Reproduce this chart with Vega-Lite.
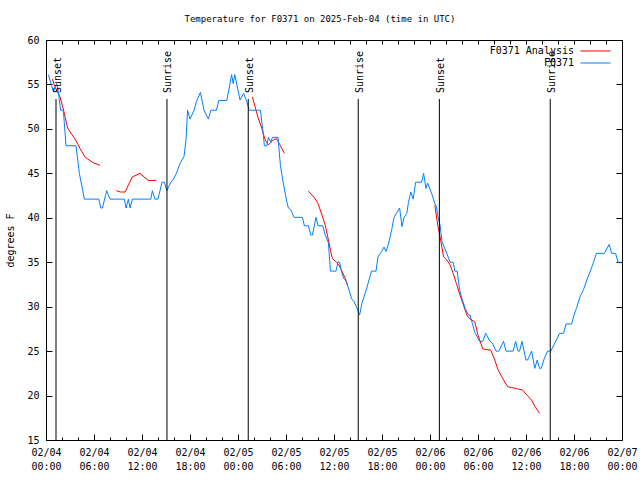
{
  "$schema": "https://vega.github.io/schema/vega-lite/v6.json",
  "width": 576,
  "height": 400,
  "autosize": {"type": "none"},
  "padding": {"left": 46, "top": 40, "right": 18, "bottom": 40},
  "background": "white",
  "title": {"text": "Temperature for F0371 on 2025-Feb-04 (time in UTC)", "font": "DejaVu Sans Mono", "fontSize": 9, "fontWeight": "normal", "color": "black", "anchor": "middle", "offset": 11, "dx": -14},
  "config": {
    "view": {"stroke": "black", "strokeWidth": 1},
    "axis": {"domain": false, "grid": false, "labelFont": "DejaVu Sans Mono", "labelFontSize": 10, "labelColor": "black", "tickColor": "black", "tickWidth": 1, "titleFont": "DejaVu Sans Mono", "titleFontSize": 10, "titleFontWeight": "normal", "titleColor": "black"},
    "legend": {"orient": "none", "legendX": 544, "legendY": 5.5, "padding": 0, "symbolType": "M-3,0H3", "symbolStrokeWidth": 1, "symbolSize": 100, "labelFont": "DejaVu Sans Mono", "labelFontSize": 10, "labelColor": "black", "labelAlign": "right", "labelOffset": -27, "rowPadding": 1}
  },
  "datasets": {
    "temps": [
      {"series": "F0371 Analysis", "seg": "a1", "hour": 0.8, "temp": 55.6},
      {"series": "F0371 Analysis", "seg": "a1", "hour": 1.1, "temp": 54.75},
      {"series": "F0371 Analysis", "seg": "a1", "hour": 1.75, "temp": 53.6},
      {"series": "F0371 Analysis", "seg": "a1", "hour": 2.2, "temp": 52.1},
      {"series": "F0371 Analysis", "seg": "a1", "hour": 2.7, "temp": 50.1},
      {"series": "F0371 Analysis", "seg": "a1", "hour": 3.2, "temp": 49.4},
      {"series": "F0371 Analysis", "seg": "a1", "hour": 3.7, "temp": 48.75},
      {"series": "F0371 Analysis", "seg": "a1", "hour": 4.25, "temp": 47.8},
      {"series": "F0371 Analysis", "seg": "a1", "hour": 4.9, "temp": 46.8},
      {"series": "F0371 Analysis", "seg": "a1", "hour": 5.9, "temp": 46.2},
      {"series": "F0371 Analysis", "seg": "a1", "hour": 6.75, "temp": 45.9},
      {"series": "F0371 Analysis", "seg": "a2", "hour": 8.8, "temp": 43.05},
      {"series": "F0371 Analysis", "seg": "a2", "hour": 9.3, "temp": 42.9},
      {"series": "F0371 Analysis", "seg": "a2", "hour": 9.9, "temp": 42.9},
      {"series": "F0371 Analysis", "seg": "a2", "hour": 10.3, "temp": 43.7},
      {"series": "F0371 Analysis", "seg": "a2", "hour": 10.8, "temp": 44.6},
      {"series": "F0371 Analysis", "seg": "a2", "hour": 11.75, "temp": 45.0},
      {"series": "F0371 Analysis", "seg": "a2", "hour": 12.25, "temp": 44.6},
      {"series": "F0371 Analysis", "seg": "a2", "hour": 12.8, "temp": 44.2},
      {"series": "F0371 Analysis", "seg": "a2", "hour": 13.8, "temp": 44.2},
      {"series": "F0371 Analysis", "seg": "a3", "hour": 25.8, "temp": 53.6},
      {"series": "F0371 Analysis", "seg": "a3", "hour": 26.1, "temp": 52.6},
      {"series": "F0371 Analysis", "seg": "a3", "hour": 26.5, "temp": 51.3},
      {"series": "F0371 Analysis", "seg": "a3", "hour": 26.96, "temp": 50.1},
      {"series": "F0371 Analysis", "seg": "a3", "hour": 27.4, "temp": 48.75},
      {"series": "F0371 Analysis", "seg": "a3", "hour": 27.8, "temp": 48.2},
      {"series": "F0371 Analysis", "seg": "a3", "hour": 28.4, "temp": 48.75},
      {"series": "F0371 Analysis", "seg": "a3", "hour": 28.8, "temp": 48.9},
      {"series": "F0371 Analysis", "seg": "a3", "hour": 29.25, "temp": 48.2},
      {"series": "F0371 Analysis", "seg": "a3", "hour": 29.8, "temp": 47.25},
      {"series": "F0371 Analysis", "seg": "a4", "hour": 32.8, "temp": 43.0},
      {"series": "F0371 Analysis", "seg": "a4", "hour": 33.6, "temp": 42.2},
      {"series": "F0371 Analysis", "seg": "a4", "hour": 34.0, "temp": 41.6},
      {"series": "F0371 Analysis", "seg": "a4", "hour": 34.5, "temp": 40.3},
      {"series": "F0371 Analysis", "seg": "a4", "hour": 34.9, "temp": 39.2},
      {"series": "F0371 Analysis", "seg": "a4", "hour": 35.3, "temp": 37.5},
      {"series": "F0371 Analysis", "seg": "a4", "hour": 35.6, "temp": 36.2},
      {"series": "F0371 Analysis", "seg": "a4", "hour": 35.8, "temp": 35.4},
      {"series": "F0371 Analysis", "seg": "a4", "hour": 36.25, "temp": 35.06},
      {"series": "F0371 Analysis", "seg": "a4", "hour": 36.6, "temp": 34.7},
      {"series": "F0371 Analysis", "seg": "a4", "hour": 36.96, "temp": 34.05},
      {"series": "F0371 Analysis", "seg": "a4", "hour": 37.4, "temp": 33.2},
      {"series": "F0371 Analysis", "seg": "a4", "hour": 37.7, "temp": 32.4},
      {"series": "F0371 Analysis", "seg": "a5", "hour": 48.6, "temp": 41.4},
      {"series": "F0371 Analysis", "seg": "a5", "hour": 49.0, "temp": 39.0},
      {"series": "F0371 Analysis", "seg": "a5", "hour": 49.25, "temp": 37.9},
      {"series": "F0371 Analysis", "seg": "a5", "hour": 49.7, "temp": 35.6},
      {"series": "F0371 Analysis", "seg": "a5", "hour": 50.1, "temp": 35.25},
      {"series": "F0371 Analysis", "seg": "a5", "hour": 50.5, "temp": 34.7},
      {"series": "F0371 Analysis", "seg": "a5", "hour": 50.9, "temp": 33.75},
      {"series": "F0371 Analysis", "seg": "a5", "hour": 51.3, "temp": 32.6},
      {"series": "F0371 Analysis", "seg": "a5", "hour": 51.75, "temp": 31.3},
      {"series": "F0371 Analysis", "seg": "a5", "hour": 52.1, "temp": 30.4},
      {"series": "F0371 Analysis", "seg": "a5", "hour": 52.6, "temp": 29.06},
      {"series": "F0371 Analysis", "seg": "a5", "hour": 53.0, "temp": 28.6},
      {"series": "F0371 Analysis", "seg": "a5", "hour": 53.6, "temp": 28.3},
      {"series": "F0371 Analysis", "seg": "a5", "hour": 54.0, "temp": 26.8},
      {"series": "F0371 Analysis", "seg": "a5", "hour": 54.6, "temp": 25.25},
      {"series": "F0371 Analysis", "seg": "a5", "hour": 55.6, "temp": 25.1},
      {"series": "F0371 Analysis", "seg": "a5", "hour": 56.1, "temp": 24.0},
      {"series": "F0371 Analysis", "seg": "a5", "hour": 56.5, "temp": 22.9},
      {"series": "F0371 Analysis", "seg": "a5", "hour": 57.1, "temp": 21.9},
      {"series": "F0371 Analysis", "seg": "a5", "hour": 57.7, "temp": 21.0},
      {"series": "F0371 Analysis", "seg": "a5", "hour": 58.2, "temp": 20.9},
      {"series": "F0371 Analysis", "seg": "a5", "hour": 58.8, "temp": 20.8},
      {"series": "F0371 Analysis", "seg": "a5", "hour": 59.6, "temp": 20.6},
      {"series": "F0371 Analysis", "seg": "a5", "hour": 60.1, "temp": 20.06},
      {"series": "F0371 Analysis", "seg": "a5", "hour": 60.7, "temp": 19.5},
      {"series": "F0371 Analysis", "seg": "a5", "hour": 61.1, "temp": 18.8},
      {"series": "F0371 Analysis", "seg": "a5", "hour": 61.7, "temp": 18.0},
      {"series": "F0371", "seg": "obs", "hour": 0.3, "temp": 56.1},
      {"series": "F0371", "seg": "obs", "hour": 0.92, "temp": 54.2},
      {"series": "F0371", "seg": "obs", "hour": 1.33, "temp": 55.1},
      {"series": "F0371", "seg": "obs", "hour": 1.54, "temp": 54.2},
      {"series": "F0371", "seg": "obs", "hour": 1.83, "temp": 52.1},
      {"series": "F0371", "seg": "obs", "hour": 2.17, "temp": 52.1},
      {"series": "F0371", "seg": "obs", "hour": 2.5, "temp": 48.1},
      {"series": "F0371", "seg": "obs", "hour": 3.75, "temp": 48.1},
      {"series": "F0371", "seg": "obs", "hour": 4.17, "temp": 45.0},
      {"series": "F0371", "seg": "obs", "hour": 4.8, "temp": 42.1},
      {"series": "F0371", "seg": "obs", "hour": 6.6, "temp": 42.1},
      {"series": "F0371", "seg": "obs", "hour": 6.85, "temp": 41.1},
      {"series": "F0371", "seg": "obs", "hour": 7.06, "temp": 41.1},
      {"series": "F0371", "seg": "obs", "hour": 7.58, "temp": 43.05},
      {"series": "F0371", "seg": "obs", "hour": 8.0, "temp": 42.1},
      {"series": "F0371", "seg": "obs", "hour": 9.8, "temp": 42.1},
      {"series": "F0371", "seg": "obs", "hour": 10.0, "temp": 41.1},
      {"series": "F0371", "seg": "obs", "hour": 10.3, "temp": 42.1},
      {"series": "F0371", "seg": "obs", "hour": 10.5, "temp": 41.1},
      {"series": "F0371", "seg": "obs", "hour": 10.8, "temp": 42.1},
      {"series": "F0371", "seg": "obs", "hour": 13.1, "temp": 42.1},
      {"series": "F0371", "seg": "obs", "hour": 13.3, "temp": 43.05},
      {"series": "F0371", "seg": "obs", "hour": 13.6, "temp": 42.1},
      {"series": "F0371", "seg": "obs", "hour": 14.0, "temp": 42.1},
      {"series": "F0371", "seg": "obs", "hour": 14.5, "temp": 44.0},
      {"series": "F0371", "seg": "obs", "hour": 14.8, "temp": 44.0},
      {"series": "F0371", "seg": "obs", "hour": 15.1, "temp": 43.05},
      {"series": "F0371", "seg": "obs", "hour": 15.6, "temp": 44.0},
      {"series": "F0371", "seg": "obs", "hour": 15.9, "temp": 44.3},
      {"series": "F0371", "seg": "obs", "hour": 16.3, "temp": 45.0},
      {"series": "F0371", "seg": "obs", "hour": 16.75, "temp": 46.1},
      {"series": "F0371", "seg": "obs", "hour": 17.25, "temp": 46.9},
      {"series": "F0371", "seg": "obs", "hour": 17.5, "temp": 48.75},
      {"series": "F0371", "seg": "obs", "hour": 17.7, "temp": 52.1},
      {"series": "F0371", "seg": "obs", "hour": 18.0, "temp": 51.1},
      {"series": "F0371", "seg": "obs", "hour": 18.5, "temp": 52.1},
      {"series": "F0371", "seg": "obs", "hour": 18.8, "temp": 53.06},
      {"series": "F0371", "seg": "obs", "hour": 19.3, "temp": 54.1},
      {"series": "F0371", "seg": "obs", "hour": 19.75, "temp": 52.1},
      {"series": "F0371", "seg": "obs", "hour": 20.3, "temp": 51.1},
      {"series": "F0371", "seg": "obs", "hour": 20.6, "temp": 52.1},
      {"series": "F0371", "seg": "obs", "hour": 21.3, "temp": 52.1},
      {"series": "F0371", "seg": "obs", "hour": 21.6, "temp": 53.2},
      {"series": "F0371", "seg": "obs", "hour": 22.6, "temp": 53.2},
      {"series": "F0371", "seg": "obs", "hour": 23.0, "temp": 55.1},
      {"series": "F0371", "seg": "obs", "hour": 23.2, "temp": 56.1},
      {"series": "F0371", "seg": "obs", "hour": 23.4, "temp": 55.1},
      {"series": "F0371", "seg": "obs", "hour": 23.6, "temp": 56.1},
      {"series": "F0371", "seg": "obs", "hour": 24.25, "temp": 53.25},
      {"series": "F0371", "seg": "obs", "hour": 24.7, "temp": 54.0},
      {"series": "F0371", "seg": "obs", "hour": 25.1, "temp": 53.06},
      {"series": "F0371", "seg": "obs", "hour": 25.4, "temp": 52.1},
      {"series": "F0371", "seg": "obs", "hour": 26.8, "temp": 52.1},
      {"series": "F0371", "seg": "obs", "hour": 27.1, "temp": 49.9},
      {"series": "F0371", "seg": "obs", "hour": 27.3, "temp": 48.1},
      {"series": "F0371", "seg": "obs", "hour": 27.6, "temp": 48.1},
      {"series": "F0371", "seg": "obs", "hour": 27.8, "temp": 49.05},
      {"series": "F0371", "seg": "obs", "hour": 28.1, "temp": 48.5},
      {"series": "F0371", "seg": "obs", "hour": 28.3, "temp": 49.05},
      {"series": "F0371", "seg": "obs", "hour": 29.0, "temp": 49.05},
      {"series": "F0371", "seg": "obs", "hour": 29.3, "temp": 45.9},
      {"series": "F0371", "seg": "obs", "hour": 29.7, "temp": 43.7},
      {"series": "F0371", "seg": "obs", "hour": 30.1, "temp": 41.8},
      {"series": "F0371", "seg": "obs", "hour": 30.3, "temp": 41.1},
      {"series": "F0371", "seg": "obs", "hour": 30.6, "temp": 40.9},
      {"series": "F0371", "seg": "obs", "hour": 31.0, "temp": 40.05},
      {"series": "F0371", "seg": "obs", "hour": 32.05, "temp": 40.05},
      {"series": "F0371", "seg": "obs", "hour": 32.3, "temp": 39.1},
      {"series": "F0371", "seg": "obs", "hour": 32.8, "temp": 39.1},
      {"series": "F0371", "seg": "obs", "hour": 33.1, "temp": 38.06},
      {"series": "F0371", "seg": "obs", "hour": 33.3, "temp": 38.06},
      {"series": "F0371", "seg": "obs", "hour": 33.75, "temp": 40.05},
      {"series": "F0371", "seg": "obs", "hour": 34.0, "temp": 39.1},
      {"series": "F0371", "seg": "obs", "hour": 34.6, "temp": 39.1},
      {"series": "F0371", "seg": "obs", "hour": 34.9, "temp": 38.06},
      {"series": "F0371", "seg": "obs", "hour": 35.3, "temp": 37.2},
      {"series": "F0371", "seg": "obs", "hour": 35.5, "temp": 34.7},
      {"series": "F0371", "seg": "obs", "hour": 35.55, "temp": 34.0},
      {"series": "F0371", "seg": "obs", "hour": 36.25, "temp": 34.0},
      {"series": "F0371", "seg": "obs", "hour": 36.5, "temp": 35.06},
      {"series": "F0371", "seg": "obs", "hour": 36.7, "temp": 35.0},
      {"series": "F0371", "seg": "obs", "hour": 36.96, "temp": 33.9},
      {"series": "F0371", "seg": "obs", "hour": 37.2, "temp": 33.2},
      {"series": "F0371", "seg": "obs", "hour": 37.5, "temp": 32.9},
      {"series": "F0371", "seg": "obs", "hour": 37.8, "temp": 32.1},
      {"series": "F0371", "seg": "obs", "hour": 38.2, "temp": 30.9},
      {"series": "F0371", "seg": "obs", "hour": 38.5, "temp": 30.56},
      {"series": "F0371", "seg": "obs", "hour": 38.8, "temp": 30.0},
      {"series": "F0371", "seg": "obs", "hour": 39.2, "temp": 29.06},
      {"series": "F0371", "seg": "obs", "hour": 39.5, "temp": 30.4},
      {"series": "F0371", "seg": "obs", "hour": 39.75, "temp": 31.1},
      {"series": "F0371", "seg": "obs", "hour": 40.1, "temp": 32.1},
      {"series": "F0371", "seg": "obs", "hour": 40.5, "temp": 33.4},
      {"series": "F0371", "seg": "obs", "hour": 40.7, "temp": 34.0},
      {"series": "F0371", "seg": "obs", "hour": 41.25, "temp": 34.0},
      {"series": "F0371", "seg": "obs", "hour": 41.5, "temp": 35.6},
      {"series": "F0371", "seg": "obs", "hour": 41.96, "temp": 36.2},
      {"series": "F0371", "seg": "obs", "hour": 42.25, "temp": 36.7},
      {"series": "F0371", "seg": "obs", "hour": 42.5, "temp": 36.2},
      {"series": "F0371", "seg": "obs", "hour": 42.8, "temp": 37.05},
      {"series": "F0371", "seg": "obs", "hour": 43.2, "temp": 38.6},
      {"series": "F0371", "seg": "obs", "hour": 43.5, "temp": 40.05},
      {"series": "F0371", "seg": "obs", "hour": 43.8, "temp": 40.5},
      {"series": "F0371", "seg": "obs", "hour": 44.2, "temp": 41.1},
      {"series": "F0371", "seg": "obs", "hour": 44.5, "temp": 39.0},
      {"series": "F0371", "seg": "obs", "hour": 44.75, "temp": 40.05},
      {"series": "F0371", "seg": "obs", "hour": 45.1, "temp": 40.5},
      {"series": "F0371", "seg": "obs", "hour": 45.3, "temp": 41.7},
      {"series": "F0371", "seg": "obs", "hour": 45.6, "temp": 42.9},
      {"series": "F0371", "seg": "obs", "hour": 45.9, "temp": 42.1},
      {"series": "F0371", "seg": "obs", "hour": 46.2, "temp": 44.0},
      {"series": "F0371", "seg": "obs", "hour": 46.96, "temp": 44.0},
      {"series": "F0371", "seg": "obs", "hour": 47.2, "temp": 45.0},
      {"series": "F0371", "seg": "obs", "hour": 47.5, "temp": 43.3},
      {"series": "F0371", "seg": "obs", "hour": 47.7, "temp": 43.9},
      {"series": "F0371", "seg": "obs", "hour": 48.2, "temp": 42.75},
      {"series": "F0371", "seg": "obs", "hour": 48.6, "temp": 41.6},
      {"series": "F0371", "seg": "obs", "hour": 48.8, "temp": 41.3},
      {"series": "F0371", "seg": "obs", "hour": 49.0, "temp": 40.1},
      {"series": "F0371", "seg": "obs", "hour": 49.25, "temp": 39.2},
      {"series": "F0371", "seg": "obs", "hour": 49.5, "temp": 37.3},
      {"series": "F0371", "seg": "obs", "hour": 50.1, "temp": 36.0},
      {"series": "F0371", "seg": "obs", "hour": 50.5, "temp": 35.0},
      {"series": "F0371", "seg": "obs", "hour": 50.9, "temp": 35.0},
      {"series": "F0371", "seg": "obs", "hour": 51.1, "temp": 34.0},
      {"series": "F0371", "seg": "obs", "hour": 51.4, "temp": 34.0},
      {"series": "F0371", "seg": "obs", "hour": 51.7, "temp": 31.9},
      {"series": "F0371", "seg": "obs", "hour": 52.0, "temp": 30.9},
      {"series": "F0371", "seg": "obs", "hour": 52.4, "temp": 29.8},
      {"series": "F0371", "seg": "obs", "hour": 52.8, "temp": 29.06},
      {"series": "F0371", "seg": "obs", "hour": 53.0, "temp": 29.06},
      {"series": "F0371", "seg": "obs", "hour": 53.3, "temp": 28.1},
      {"series": "F0371", "seg": "obs", "hour": 53.6, "temp": 27.1},
      {"series": "F0371", "seg": "obs", "hour": 54.2, "temp": 26.1},
      {"series": "F0371", "seg": "obs", "hour": 54.6, "temp": 26.1},
      {"series": "F0371", "seg": "obs", "hour": 54.96, "temp": 27.0},
      {"series": "F0371", "seg": "obs", "hour": 55.5, "temp": 26.1},
      {"series": "F0371", "seg": "obs", "hour": 55.8, "temp": 25.9},
      {"series": "F0371", "seg": "obs", "hour": 56.25, "temp": 25.0},
      {"series": "F0371", "seg": "obs", "hour": 56.6, "temp": 25.0},
      {"series": "F0371", "seg": "obs", "hour": 57.2, "temp": 26.1},
      {"series": "F0371", "seg": "obs", "hour": 57.5, "temp": 25.0},
      {"series": "F0371", "seg": "obs", "hour": 58.4, "temp": 25.0},
      {"series": "F0371", "seg": "obs", "hour": 58.7, "temp": 26.1},
      {"series": "F0371", "seg": "obs", "hour": 59.0, "temp": 25.0},
      {"series": "F0371", "seg": "obs", "hour": 59.2, "temp": 25.0},
      {"series": "F0371", "seg": "obs", "hour": 59.5, "temp": 26.1},
      {"series": "F0371", "seg": "obs", "hour": 60.0, "temp": 24.0},
      {"series": "F0371", "seg": "obs", "hour": 60.2, "temp": 24.0},
      {"series": "F0371", "seg": "obs", "hour": 60.7, "temp": 25.0},
      {"series": "F0371", "seg": "obs", "hour": 61.1, "temp": 23.06},
      {"series": "F0371", "seg": "obs", "hour": 61.4, "temp": 24.0},
      {"series": "F0371", "seg": "obs", "hour": 61.7, "temp": 23.06},
      {"series": "F0371", "seg": "obs", "hour": 61.9, "temp": 23.06},
      {"series": "F0371", "seg": "obs", "hour": 62.3, "temp": 24.2},
      {"series": "F0371", "seg": "obs", "hour": 62.7, "temp": 25.0},
      {"series": "F0371", "seg": "obs", "hour": 63.1, "temp": 25.0},
      {"series": "F0371", "seg": "obs", "hour": 63.6, "temp": 25.9},
      {"series": "F0371", "seg": "obs", "hour": 64.2, "temp": 27.0},
      {"series": "F0371", "seg": "obs", "hour": 64.7, "temp": 27.0},
      {"series": "F0371", "seg": "obs", "hour": 65.0, "temp": 28.05},
      {"series": "F0371", "seg": "obs", "hour": 65.7, "temp": 28.05},
      {"series": "F0371", "seg": "obs", "hour": 66.0, "temp": 29.06},
      {"series": "F0371", "seg": "obs", "hour": 66.3, "temp": 29.8},
      {"series": "F0371", "seg": "obs", "hour": 66.75, "temp": 31.1},
      {"series": "F0371", "seg": "obs", "hour": 67.2, "temp": 31.95},
      {"series": "F0371", "seg": "obs", "hour": 67.6, "temp": 33.0},
      {"series": "F0371", "seg": "obs", "hour": 68.0, "temp": 33.9},
      {"series": "F0371", "seg": "obs", "hour": 68.4, "temp": 34.9},
      {"series": "F0371", "seg": "obs", "hour": 68.8, "temp": 36.0},
      {"series": "F0371", "seg": "obs", "hour": 69.8, "temp": 36.0},
      {"series": "F0371", "seg": "obs", "hour": 70.4, "temp": 37.0},
      {"series": "F0371", "seg": "obs", "hour": 70.7, "temp": 36.0},
      {"series": "F0371", "seg": "obs", "hour": 71.2, "temp": 36.0},
      {"series": "F0371", "seg": "obs", "hour": 71.5, "temp": 35.0},
      {"series": "F0371", "seg": "obs", "hour": 71.9, "temp": 35.0}
    ],
    "events": [
      {"event": "Sunset", "hour": 1.25},
      {"event": "Sunrise", "hour": 15.12},
      {"event": "Sunset", "hour": 25.28},
      {"event": "Sunrise", "hour": 39.03},
      {"event": "Sunset", "hour": 49.17},
      {"event": "Sunrise", "hour": 63.03}
    ]
  },
  "layer": [
    {
      "data": {"name": "temps"},
      "mark": {"type": "line", "strokeWidth": 1},
      "encoding": {
        "x": {"field": "hour", "type": "quantitative", "scale": {"domain": [0, 72], "nice": false, "zero": false},
          "axis": {"orient": "bottom", "values": [0, 6, 12, 18, 24, 30, 36, 42, 48, 54, 60, 66, 72], "tickSize": -6, "labelPadding": 13, "labelLineHeight": 14, "labelBaseline": "top", "labelFlush": false, "labelOverlap": false, "title": null,
            "labelExpr": "['02/0' + (4 + floor(datum.value / 24)), (datum.value % 24 < 10 ? '0' : '') + (datum.value % 24) + ':00']"}},
        "y": {"field": "temp", "type": "quantitative", "scale": {"domain": [15, 60], "nice": false, "zero": false},
          "axis": {"orient": "left", "values": [15, 20, 25, 30, 35, 40, 45, 50, 55, 60], "tickSize": -6, "labelPadding": 13, "title": "degrees F", "titlePadding": 11}},
        "color": {"field": "series", "type": "nominal", "scale": {"domain": ["F0371 Analysis", "F0371"], "range": ["#ff0000", "#0080ff"]}, "legend": {"title": null}},
        "detail": {"field": "seg"}
      }
    },
    {
      "data": {"name": "events"},
      "mark": {"type": "rule", "color": "black", "strokeWidth": 1},
      "encoding": {
        "x": {"field": "hour", "type": "quantitative", "scale": {"domain": [0, 72], "nice": false, "zero": false},
          "axis": {"orient": "bottom", "values": [0, 2, 4, 6, 8, 10, 12, 14, 16, 18, 20, 22, 24, 26, 28, 30, 32, 34, 36, 38, 40, 42, 44, 46, 48, 50, 52, 54, 56, 58, 60, 62, 64, 66, 68, 70, 72], "labels": false, "tickSize": -3, "title": null}},
        "y": {"datum": 15, "type": "quantitative", "scale": {"domain": [15, 60], "nice": false, "zero": false},
          "axis": {"orient": "right", "values": [15, 20, 25, 30, 35, 40, 45, 50, 55, 60], "labels": false, "tickSize": -6, "title": null}},
        "y2": {"datum": 53.36}
      }
    },
    {
      "data": {"name": "events"},
      "mark": {"type": "text", "angle": 270, "align": "left", "baseline": "middle", "dx": 6, "dy": 1.5, "font": "DejaVu Sans Mono", "fontSize": 10, "color": "black"},
      "encoding": {
        "x": {"field": "hour", "type": "quantitative", "scale": {"domain": [0, 72], "nice": false, "zero": false},
          "axis": {"orient": "top", "values": [0, 2, 4, 6, 8, 10, 12, 14, 16, 18, 20, 22, 24, 26, 28, 30, 32, 34, 36, 38, 40, 42, 44, 46, 48, 50, 52, 54, 56, 58, 60, 62, 64, 66, 68, 70, 72], "labels": false, "tickSize": -4, "title": null}},
        "y": {"datum": 53.36, "type": "quantitative", "scale": {"domain": [15, 60], "nice": false, "zero": false}, "axis": null},
        "text": {"field": "event"}
      }
    }
  ],
  "resolve": {"axis": {"x": "independent", "y": "independent"}}
}
